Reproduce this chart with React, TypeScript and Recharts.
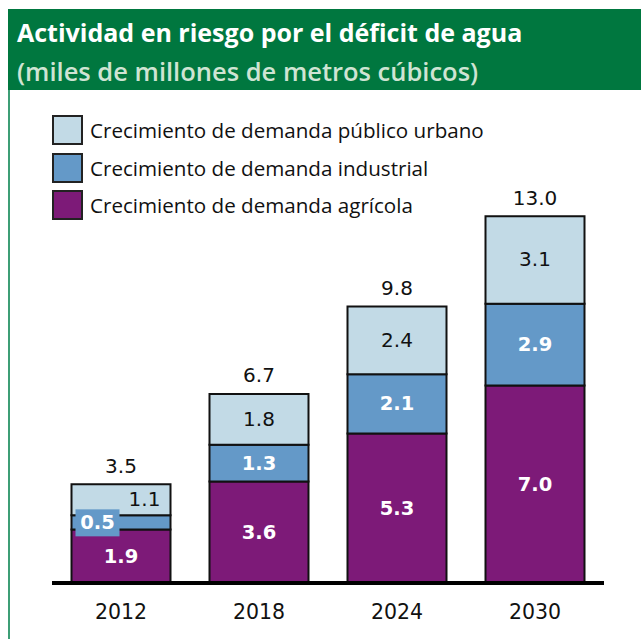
import React from 'react';
import { BarChart, Bar, XAxis, YAxis, LabelList } from 'recharts';

const categories = ['2012', '2018', '2024', '2030'];
const agricola = [1.9, 3.6, 5.3, 7.0];
const industrial = [0.5, 1.3, 2.1, 2.9];
const urbano = [1.1, 1.8, 2.4, 3.1];
const totals = [3.5, 6.7, 9.8, 13.0];

const legendLabels = [
  'Crecimiento de demanda público urbano',
  'Crecimiento de demanda industrial',
  'Crecimiento de demanda agrícola',
];
const titleLine1 = 'Actividad en riesgo por el déficit de agua';
const titleLine2 = '(miles de millones de metros cúbicos)';

const COLORS = { urbano: '#c2dae6', industrial: '#6499c8', agricola: '#7d1a78' };
const legendColors = [COLORS.urbano, COLORS.industrial, COLORS.agricola];

const data = categories.map((c, i) => ({
  year: c,
  agricola: agricola[i],
  industrial: industrial[i],
  urbano: urbano[i],
  total: totals[i],
}));

const NUM_FONT = '"DejaVu Sans", sans-serif';
const fmt = (v: number) => Number(v).toFixed(1);

const SegLabel = (kind: string) => (props: any) => {
  const { x, y, width, height, value, index } = props;
  const cx = x + width / 2;
  const cy = y + height / 2;
  if (kind === 'industrial' && height < 20) {
    return (
      <g>
        <rect x={x + 4} y={cy - 13} width={44} height={27} fill={COLORS.industrial} />
        <text x={x + 26} y={cy + 1} textAnchor="middle" dominantBaseline="middle" fill="#fff" fontWeight="bold" fontSize={19.5} fontFamily={NUM_FONT}>{fmt(value)}</text>
      </g>
    );
  }
  if (kind === 'urbano') {
    const small = index === 0;
    return (
      <text x={small ? x + width - 26 : cx} y={cy + 1} textAnchor="middle" dominantBaseline="middle" fill="#111" fontSize={20} fontFamily={NUM_FONT}>{fmt(value)}</text>
    );
  }
  return (
    <text x={cx} y={cy + 1} textAnchor="middle" dominantBaseline="middle" fill="#fff" fontWeight="bold" fontSize={19.5} fontFamily={NUM_FONT}>{fmt(value)}</text>
  );
};

const TotalLabel = (props: any) => {
  const { x, y, width, value } = props;
  return (
    <text x={x + width / 2} y={y - 17} textAnchor="middle" dominantBaseline="middle" fill="#111" fontSize={20} fontFamily={NUM_FONT}>{fmt(value)}</text>
  );
};

const YearTick = (props: any) => {
  const { x, y, payload } = props;
  return (
    <text x={x} y={y + 30} textAnchor="middle" dominantBaseline="middle" fill="#111" fontSize={20.5} fontFamily={NUM_FONT}>{payload.value}</text>
  );
};

export default function App() {
  return (
    <div style={{ position: 'absolute', left: 0, top: 0, width: 641, height: 639, background: '#fff', overflow: 'hidden' }}>
      <div style={{ position: 'absolute', left: 8, top: 9, width: 633, height: 81, background: '#00773f' }} />
      <div style={{ position: 'absolute', left: 8, top: 90, width: 2, height: 549, background: '#3d9e76' }} />
      <div style={{ position: 'absolute', left: 17, top: 12, fontFamily: '"Open Sans", sans-serif', fontWeight: 700, fontSize: 25, color: '#fff', whiteSpace: 'nowrap', lineHeight: '40px' }}>
        {titleLine1}
      </div>
      <div style={{ position: 'absolute', left: 17, top: 51, fontFamily: '"Open Sans", sans-serif', fontWeight: 600, fontSize: 25.5, color: '#cfe4d3', whiteSpace: 'nowrap', lineHeight: '40px' }}>
        {titleLine2}
      </div>
      {legendLabels.map((l, i) => (
        <div key={l} style={{ position: 'absolute', left: 52, top: 115 + i * 37.5, height: 30, display: 'flex', alignItems: 'center' }}>
          <div style={{ width: 27, height: 26, background: legendColors[i], border: '2px solid #222' }} />
          <div style={{ marginLeft: 7, fontFamily: '"Open Sans", sans-serif', fontSize: 20.6, color: '#111', whiteSpace: 'nowrap' }}>{l}</div>
        </div>
      ))}
      <div style={{ position: 'absolute', left: 0, top: 0 }}>
        <BarChart width={641} height={639} data={data} margin={{ top: 188, right: 37, bottom: 26, left: 52 }} barCategoryGap={19.5}>
          <XAxis dataKey="year" height={30} axisLine={{ stroke: '#000', strokeWidth: 4 }} tickLine={false} tickSize={0} tickMargin={0} tick={<YearTick />} interval={0} />
          <YAxis hide domain={[0, 14]} />
          <Bar dataKey="agricola" stackId="a" fill={COLORS.agricola} stroke="#111" strokeWidth={2} isAnimationActive={false}>
            <LabelList dataKey="agricola" content={SegLabel('agricola')} />
          </Bar>
          <Bar dataKey="industrial" stackId="a" fill={COLORS.industrial} stroke="#111" strokeWidth={2} isAnimationActive={false}>
            <LabelList dataKey="industrial" content={SegLabel('industrial')} />
          </Bar>
          <Bar dataKey="urbano" stackId="a" fill={COLORS.urbano} stroke="#111" strokeWidth={2} isAnimationActive={false}>
            <LabelList dataKey="urbano" content={SegLabel('urbano')} />
            <LabelList dataKey="total" content={TotalLabel} />
          </Bar>
        </BarChart>
      </div>
    </div>
  );
}
